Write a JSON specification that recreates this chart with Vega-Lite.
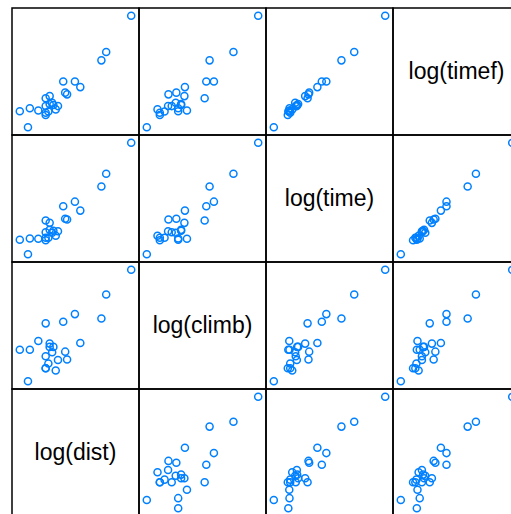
{
  "$schema": "https://vega.github.io/schema/vega-lite/v6.json",
  "padding": {"left": 11, "top": 7, "right": 0, "bottom": 0},
  "background": "white",
  "bounds": "flush",
  "columns": 4,
  "spacing": 0,
  "config": {
    "view": {"stroke": "black", "strokeWidth": 1.5},
    "concat": {"spacing": 0},
    "point": {"shape": "circle", "filled": false, "color": "#0080ff", "size": 50, "strokeWidth": 1.5, "opacity": 1},
    "text": {"font": "Liberation Sans", "fontSize": 23, "color": "black"}
  },
  "data": {"values": [
    {"race": "Seven Sevens", "dist": 18.9, "climb": 8775, "time": 3.415, "timef": 4.30},
    {"race": "Annalong Horseshoe", "dist": 12.0, "climb": 5080, "time": 1.78, "timef": 2.00},
    {"race": "Flagstaff to Carlingford", "dist": 11.0, "climb": 3000, "time": 1.36, "timef": 1.68},
    {"race": "Donard & Commedagh", "dist": 6.8, "climb": 3300, "time": 0.99, "timef": 1.075},
    {"race": "Slieve Donard", "dist": 5.5, "climb": 2790, "time": 0.90, "timef": 1.075},
    {"race": "Binevenagh", "dist": 7.5, "climb": 1740, "time": 0.82, "timef": 0.955},
    {"race": "Slieve Croob", "dist": 5.7, "climb": 1440, "time": 0.69, "timef": 0.85},
    {"race": "Glenariff Mountain", "dist": 5.9, "climb": 1210, "time": 0.68, "timef": 0.82},
    {"race": "Slieve Bearnagh", "dist": 4.0, "climb": 2690, "time": 0.667, "timef": 0.755},
    {"race": "Loughshannagh Horseshoe", "dist": 4.3, "climb": 1720, "time": 0.634, "timef": 0.79},
    {"race": "Slieve Martin", "dist": 4.3, "climb": 1600, "time": 0.547, "timef": 0.67},
    {"race": "Slieve Gullion", "dist": 4.6, "climb": 1600, "time": 0.536, "timef": 0.656},
    {"race": "Donard Forest", "dist": 4.5, "climb": 1420, "time": 0.514, "timef": 0.687},
    {"race": "Rocky", "dist": 4.0, "climb": 1300, "time": 0.52, "timef": 0.64},
    {"race": "McVeigh Classic", "dist": 5.0, "climb": 1200, "time": 0.532, "timef": 0.64},
    {"race": "Meelbeg Meelmore", "dist": 3.5, "climb": 1820, "time": 0.454, "timef": 0.583},
    {"race": "Moughanmore", "dist": 3.0, "climb": 1500, "time": 0.456, "timef": 0.611},
    {"race": "Hen & Cock", "dist": 2.5, "climb": 1500, "time": 0.445, "timef": 0.575},
    {"race": "Slieve Gallion", "dist": 4.2, "climb": 1110, "time": 0.463, "timef": 0.57},
    {"race": "Monument Race", "dist": 4.0, "climb": 1000, "time": 0.463, "timef": 0.557},
    {"race": "Tollymore Mountain", "dist": 4.8, "climb": 950, "time": 0.483, "timef": 0.597},
    {"race": "Lurig Challenge", "dist": 4.0, "climb": 1000, "time": 0.44, "timef": 0.531},
    {"race": "Scrabo Hill Race", "dist": 2.9, "climb": 750, "time": 0.3278, "timef": 0.41}
  ]},
  "resolve": {"scale": {"x": "independent", "y": "independent"}},
  "concat": [
    {"width": 127, "height": 127, "mark": "point", "encoding": {
      "x": {"field": "dist", "type": "quantitative", "scale": {"type": "log", "domain": [2.17, 21.77], "nice": false}, "axis": null},
      "y": {"field": "timef", "type": "quantitative", "scale": {"type": "log", "domain": [0.3478, 5.069], "nice": false}, "axis": null}}},
    {"width": 127, "height": 127, "mark": "point", "encoding": {
      "x": {"field": "climb", "type": "quantitative", "scale": {"type": "log", "domain": [631.4, 10424], "nice": false}, "axis": null},
      "y": {"field": "timef", "type": "quantitative", "scale": {"type": "log", "domain": [0.3478, 5.069], "nice": false}, "axis": null}}},
    {"width": 127, "height": 127, "mark": "point", "encoding": {
      "x": {"field": "time", "type": "quantitative", "scale": {"type": "log", "domain": [0.2782, 4.024], "nice": false}, "axis": null},
      "y": {"field": "timef", "type": "quantitative", "scale": {"type": "log", "domain": [0.3478, 5.069], "nice": false}, "axis": null}}},
    {"width": 127, "height": 127, "view": {"stroke": "black", "strokeWidth": 1.5}, "data": {"values": [{"label": "log(timef)"}]}, "mark": "text", "encoding": {"text": {"field": "label"}}},

    {"width": 127, "height": 127, "mark": "point", "encoding": {
      "x": {"field": "dist", "type": "quantitative", "scale": {"type": "log", "domain": [2.17, 21.77], "nice": false}, "axis": null},
      "y": {"field": "time", "type": "quantitative", "scale": {"type": "log", "domain": [0.2782, 4.024], "nice": false}, "axis": null}}},
    {"width": 127, "height": 127, "mark": "point", "encoding": {
      "x": {"field": "climb", "type": "quantitative", "scale": {"type": "log", "domain": [631.4, 10424], "nice": false}, "axis": null},
      "y": {"field": "time", "type": "quantitative", "scale": {"type": "log", "domain": [0.2782, 4.024], "nice": false}, "axis": null}}},
    {"width": 127, "height": 127, "view": {"stroke": "black", "strokeWidth": 1.5}, "data": {"values": [{"label": "log(time)"}]}, "mark": "text", "encoding": {"text": {"field": "label"}}},
    {"width": 127, "height": 127, "mark": "point", "encoding": {
      "x": {"field": "timef", "type": "quantitative", "scale": {"type": "log", "domain": [0.3478, 5.069], "nice": false}, "axis": null},
      "y": {"field": "time", "type": "quantitative", "scale": {"type": "log", "domain": [0.2782, 4.024], "nice": false}, "axis": null}}},

    {"width": 127, "height": 127, "mark": "point", "encoding": {
      "x": {"field": "dist", "type": "quantitative", "scale": {"type": "log", "domain": [2.17, 21.77], "nice": false}, "axis": null},
      "y": {"field": "climb", "type": "quantitative", "scale": {"type": "log", "domain": [631.4, 10424], "nice": false}, "axis": null}}},
    {"width": 127, "height": 127, "view": {"stroke": "black", "strokeWidth": 1.5}, "data": {"values": [{"label": "log(climb)"}]}, "mark": "text", "encoding": {"text": {"field": "label"}}},
    {"width": 127, "height": 127, "mark": "point", "encoding": {
      "x": {"field": "time", "type": "quantitative", "scale": {"type": "log", "domain": [0.2782, 4.024], "nice": false}, "axis": null},
      "y": {"field": "climb", "type": "quantitative", "scale": {"type": "log", "domain": [631.4, 10424], "nice": false}, "axis": null}}},
    {"width": 127, "height": 127, "mark": "point", "encoding": {
      "x": {"field": "timef", "type": "quantitative", "scale": {"type": "log", "domain": [0.3478, 5.069], "nice": false}, "axis": null},
      "y": {"field": "climb", "type": "quantitative", "scale": {"type": "log", "domain": [631.4, 10424], "nice": false}, "axis": null}}},

    {"width": 127, "height": 127, "view": {"stroke": "black", "strokeWidth": 1.5}, "data": {"values": [{"label": "log(dist)"}]}, "mark": "text", "encoding": {"text": {"field": "label"}}},
    {"width": 127, "height": 127, "mark": "point", "encoding": {
      "x": {"field": "climb", "type": "quantitative", "scale": {"type": "log", "domain": [631.4, 10424], "nice": false}, "axis": null},
      "y": {"field": "dist", "type": "quantitative", "scale": {"type": "log", "domain": [2.17, 21.77], "nice": false}, "axis": null}}},
    {"width": 127, "height": 127, "mark": "point", "encoding": {
      "x": {"field": "time", "type": "quantitative", "scale": {"type": "log", "domain": [0.2782, 4.024], "nice": false}, "axis": null},
      "y": {"field": "dist", "type": "quantitative", "scale": {"type": "log", "domain": [2.17, 21.77], "nice": false}, "axis": null}}},
    {"width": 127, "height": 127, "mark": "point", "encoding": {
      "x": {"field": "timef", "type": "quantitative", "scale": {"type": "log", "domain": [0.3478, 5.069], "nice": false}, "axis": null},
      "y": {"field": "dist", "type": "quantitative", "scale": {"type": "log", "domain": [2.17, 21.77], "nice": false}, "axis": null}}}
  ]
}
